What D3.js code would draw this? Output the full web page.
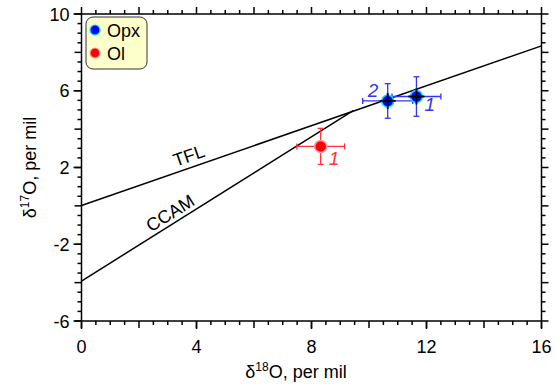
<!DOCTYPE html>
<html lang="en">
<head>
<meta charset="UTF-8">
<title>d18O vs d17O</title>
<script src="https://cdn.jsdelivr.net/npm/d3@7"></script>
<style>
  body { margin: 0; background: #fff; }
  svg { font-family: "Liberation Sans", Arial, sans-serif; }
</style>
</head>
<body>
<script>
// data
const xTicks = [0, 4, 8, 12, 16];
const yTicks = [-6, -2, 2, 6, 10];
const seriesNames = ["Opx", "Ol"];
const seriesFill = ["#0000ff", "#ff0000"];
const seriesEdge = ["#00e5ff", "#ff9aa8"];
const seriesBar = ["#3333ff", "#ff3333"];
// points: series, label, d18O, err18, d17O, err17
const ptSeries = [0, 0, 1];
const ptLabel = ["1", "2", "1"];
const ptX = [11.65, 10.65, 8.32];
const ptXerr = [0.85, 0.87, 0.83];
const ptY = [5.7, 5.47, 3.1];
const ptYerr = [1.03, 0.9, 0.94];
// lines: slope, intercept, x range
const tfl = {name: "TFL", slope: 0.52, icpt: 0.02, x0: 0, x1: 16};
const ccam = {name: "CCAM", slope: 0.94, icpt: -3.92, x0: 0, x1: 9.45};

const W = 556, H = 385;
const m = {left: 81.5, right: 14.5, top: 14, bottom: 64};
const fs = 18;

const svg = d3.select("body").append("svg").attr("width", W).attr("height", H);

const x = d3.scaleLinear().domain([0, 16]).range([m.left, W - m.right]);
const y = d3.scaleLinear().domain([-6, 10]).range([H - m.bottom, m.top]);

const minorX = d3.range(0, 16.01, 0.5), minorY = d3.range(-6, 10.01, 0.5);
const tickLen = v => (Math.abs(v % 2) < 1e-9 ? 7 : 4);

const ax = svg.append("g").attr("stroke", "#000").attr("stroke-width", 1.5);
// frame
ax.append("rect").attr("x", x(0)).attr("y", y(10))
  .attr("width", x(16) - x(0)).attr("height", y(-6) - y(10)).attr("fill", "none");
// outward ticks on all four sides
minorX.forEach(v => {
  ax.append("line").attr("x1", x(v)).attr("x2", x(v)).attr("y1", y(-6)).attr("y2", y(-6) + tickLen(v));
  ax.append("line").attr("x1", x(v)).attr("x2", x(v)).attr("y1", y(10)).attr("y2", y(10) - tickLen(v));
});
minorY.forEach(v => {
  ax.append("line").attr("y1", y(v)).attr("y2", y(v)).attr("x1", x(0)).attr("x2", x(0) - tickLen(v));
  ax.append("line").attr("y1", y(v)).attr("y2", y(v)).attr("x1", x(16)).attr("x2", x(16) + tickLen(v));
});
// label ticks a bit longer
xTicks.forEach(v => ax.append("line").attr("x1", x(v)).attr("x2", x(v)).attr("y1", y(-6)).attr("y2", y(-6) + 8));
yTicks.forEach(v => ax.append("line").attr("y1", y(v)).attr("y2", y(v)).attr("x1", x(0)).attr("x2", x(0) - 8));

svg.selectAll(".xl").data(xTicks).enter().append("text")
  .attr("x", d => x(d)).attr("y", y(-6) + 32).attr("text-anchor", "middle")
  .attr("font-size", fs).text(d => d);
svg.selectAll(".yl").data(yTicks).enter().append("text")
  .attr("x", x(0) - 12).attr("y", d => y(d) + 6.5).attr("text-anchor", "end")
  .attr("font-size", fs).text(d => d);

// axis titles
const xt = svg.append("text").attr("x", 296).attr("y", 378).attr("text-anchor", "middle").attr("font-size", fs);
xt.append("tspan").text("δ");
xt.append("tspan").attr("font-size", 12).attr("dy", -7).text("18");
xt.append("tspan").attr("dy", 7).text("O, per mil");
const yt = svg.append("text").attr("transform", `translate(36,${(y(10) + y(-6)) / 2}) rotate(-90)`)
  .attr("text-anchor", "middle").attr("font-size", fs);
yt.append("tspan").text("δ");
yt.append("tspan").attr("font-size", 12).attr("dy", -7).text("17");
yt.append("tspan").attr("dy", 7).text("O, per mil");

// reference lines
const plot = svg.append("g");
[tfl, ccam].forEach(l => {
  plot.append("line")
    .attr("x1", x(l.x0)).attr("y1", y(l.slope * l.x0 + l.icpt))
    .attr("x2", x(l.x1)).attr("y2", y(l.slope * l.x1 + l.icpt))
    .attr("stroke", "#000").attr("stroke-width", 1.5);
});
function lineLabel(l, xv, off) {
  const ang = Math.atan2(y(l.slope * 1 + l.icpt) - y(l.icpt), x(1) - x(0)) * 180 / Math.PI;
  plot.append("text")
    .attr("transform", `translate(${x(xv)},${y(l.slope * xv + l.icpt) - off}) rotate(${ang})`)
    .attr("text-anchor", "middle").attr("font-size", fs).text(l.name);
}
lineLabel(tfl, 3.8, 6);
lineLabel(ccam, 3.2, 5);

// error bars and markers
const cap = 3;
ptX.forEach((xv, i) => {
  const s = ptSeries[i], c = seriesBar[s];
  const g = plot.append("g").attr("stroke", c).attr("stroke-width", 1.3);
  g.append("line").attr("x1", x(xv - ptXerr[i])).attr("x2", x(xv + ptXerr[i])).attr("y1", y(ptY[i])).attr("y2", y(ptY[i]));
  g.append("line").attr("y1", y(ptY[i] - ptYerr[i])).attr("y2", y(ptY[i] + ptYerr[i])).attr("x1", x(xv)).attr("x2", x(xv));
  [xv - ptXerr[i], xv + ptXerr[i]].forEach(e => g.append("line").attr("x1", x(e)).attr("x2", x(e)).attr("y1", y(ptY[i]) - cap).attr("y2", y(ptY[i]) + cap));
  [ptY[i] - ptYerr[i], ptY[i] + ptYerr[i]].forEach(e => g.append("line").attr("y1", y(e)).attr("y2", y(e)).attr("x1", x(xv) - cap).attr("x2", x(xv) + cap));
});
ptX.forEach((xv, i) => {
  const s = ptSeries[i];
  plot.append("circle").attr("cx", x(xv)).attr("cy", y(ptY[i])).attr("r", 6)
    .attr("fill", seriesFill[s]).attr("stroke", seriesEdge[s]).attr("stroke-width", 1.5);
  if (s === 0) {
    plot.append("path")
      .attr("d", `M${x(xv) - 8},${y(ptY[i])}h16M${x(xv)},${y(ptY[i]) - 8}v16`)
      .attr("stroke", "#000").attr("stroke-width", 1.8);
  }
});
// point labels
const lblDx = [8, -20, 8], lblDy = [14, -4, 19];
ptX.forEach((xv, i) => {
  plot.append("text").attr("x", x(xv) + lblDx[i]).attr("y", y(ptY[i]) + lblDy[i])
    .attr("font-size", 19).attr("font-style", "italic")
    .attr("fill", seriesBar[ptSeries[i]]).text(ptLabel[i]);
});

// legend
const lg = svg.append("g");
lg.append("rect").attr("x", 86).attr("y", 17).attr("width", 61).attr("height", 52).attr("rx", 7)
  .attr("fill", "#ffffcc").attr("stroke", "#333").attr("stroke-width", 1);
seriesNames.forEach((n, i) => {
  lg.append("circle").attr("cx", 95).attr("cy", 30 + i * 23).attr("r", 5)
    .attr("fill", seriesFill[i]).attr("stroke", seriesEdge[i]).attr("stroke-width", 1.2);
  lg.append("text").attr("x", 107).attr("y", 36.5 + i * 23).attr("font-size", fs).text(n);
});
</script>
</body>
</html>
